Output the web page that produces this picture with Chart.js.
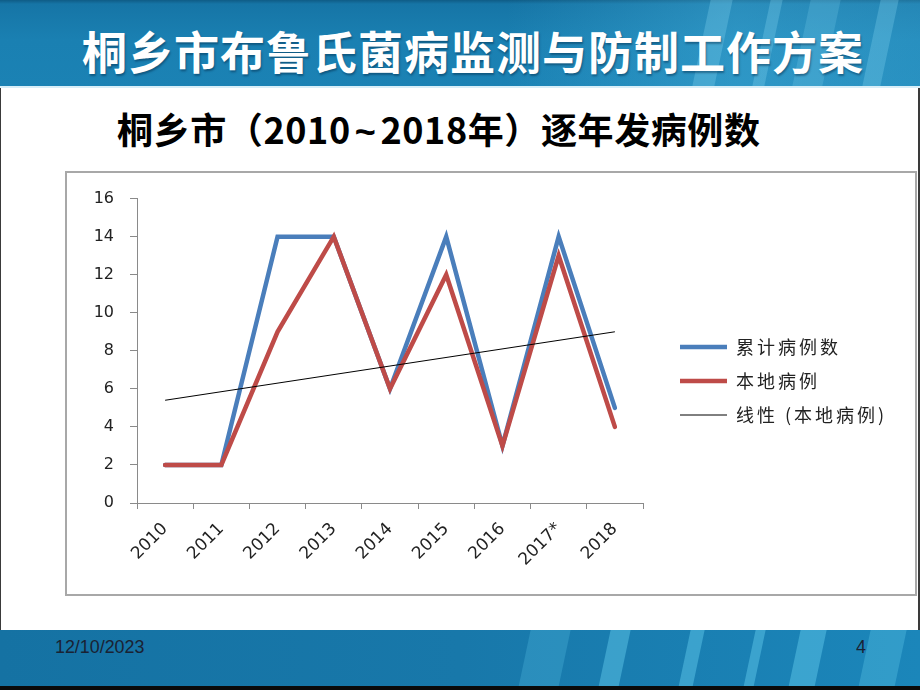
<!DOCTYPE html>
<html>
<head>
<meta charset="utf-8">
<script src="https://cdn.jsdelivr.net/npm/chart.js@4.4.1/dist/chart.umd.min.js"></script>
<style>
  html, body { margin:0; padding:0; }
  body { width:920px; height:690px; position:relative; overflow:hidden; background:#fff; font-family:"Noto Sans CJK SC", "Noto Sans", sans-serif; }
  #header { position:absolute; left:0; top:0; width:920px; height:88px; overflow:hidden;
    background:linear-gradient(to bottom, #0f5c86 0px, #1675a6 4px, #1a80b2 40px, #1b82b4 88px); }
  #header .glow { position:absolute; left:0; top:0; width:920px; height:88px;
    background:linear-gradient(to right, rgba(255,255,255,0) 0%, rgba(255,255,255,0) 55%, rgba(90,200,240,0.30) 80%, rgba(90,200,240,0.22) 100%); }
  .stripe { position:absolute; top:-10px; height:120px; background:rgba(140,220,245,0.28); transform:skewX(-12deg); }
  #header .hline { position:absolute; left:0; bottom:0; width:920px; height:2px; background:#d8eef8; }
  #title { position:absolute; left:82px; top:28px; font-size:45px; line-height:45px; font-weight:700; color:#fff; letter-spacing:1px; white-space:nowrap;
    text-shadow:1px 2px 2px rgba(0,40,70,0.45); }
  #subtitle { position:absolute; left:117px; top:110px; font-size:36px; line-height:36px; font-weight:700; color:#000; white-space:nowrap; letter-spacing:0.6px; }
  #subtitle .tl { font-family:"Liberation Sans", Arial, sans-serif; font-weight:700; padding:0 4px; }
  #box { position:absolute; left:65px; top:171px; width:848px; height:421px; border:2px solid #a8a8a8; background:#fff; }
  #box canvas { position:absolute; left:0; top:0; }
  #footer { position:absolute; left:0; top:630px; width:920px; height:56px; overflow:hidden;
    background:linear-gradient(to right, #1572a3 0%, #1878aa 50%, #1b86ba 100%); }
  #footer .stripe { background:rgba(110,215,245,0.4); }
  #bottombar { position:absolute; left:0; top:686px; width:920px; height:4px; background:#0a0a0a; }
  #date { position:absolute; left:55px; top:636px; font-family:"Liberation Sans",Arial,sans-serif; font-size:19px; color:#1a2233; transform:scaleX(0.94); transform-origin:left top; }
  #page { position:absolute; left:856px; top:636px; font-family:"Liberation Sans",Arial,sans-serif; font-size:19px; color:#1a2233; transform:scaleX(0.94); transform-origin:left top; }
  #edgeL { position:absolute; left:0; top:88px; width:1px; height:542px; background:#3a3a3a; }
  #edgeR { position:absolute; left:918px; top:88px; width:2px; height:560px; background:#3a3a3a; }
</style>
</head>
<body>
<div id="header">
  <div class="glow"></div>
  <div class="stripe" style="left:700px;width:22px;"></div>
  <div class="stripe" style="left:760px;width:12px;"></div>
  <div class="stripe" style="left:800px;width:30px;background:rgba(140,220,245,0.2)"></div>
  <div class="stripe" style="left:870px;width:18px;"></div>
  <div class="hline"></div>
</div>
<div id="title">桐乡市布鲁氏菌病监测与防制工作方案</div>
<div id="subtitle">桐乡市（2010<span class="tl">~</span>2018年）逐年发病例数</div>
<div id="edgeL"></div>
<div id="edgeR"></div>
<div id="box"><canvas id="c" width="848" height="421" style="width:848px;height:421px;"></canvas></div>
<div id="footer">
  <div class="stripe" style="left:520px;width:40px;background:rgba(110,215,245,0.22)"></div>
  <div class="stripe" style="left:600px;width:20px;"></div>
  <div class="stripe" style="left:680px;width:14px;"></div>
  <div class="stripe" style="left:745px;width:10px;"></div>
  <div class="stripe" style="left:790px;width:26px;"></div>
  <div class="stripe" style="left:860px;width:36px;background:rgba(110,215,245,0.28)"></div>
</div>
<div id="bottombar"></div>
<div id="date">12/10/2023</div>
<div id="page">4</div>
<script>
// ---- data ----
const years = ["2010", "2011", "2012", "2013", "2014", "2015", "2016", "2017*", "2018"];
const cumulativeCases = [2, 2, 14, 14, 6, 14, 3, 14, 5];
const localCases = [2, 2, 9, 14, 6, 12, 3, 13, 4];
// linear trend of local cases, read at its two ends (2010 and 2018)
const trendLocal = [5.4, null, null, null, null, null, null, null, 9.0];
const seriesNames = ["累计病例数", "本地病例", "线性 (本地病例)"];
const yTicks = [0, 2, 4, 6, 8, 10, 12, 14, 16];

// ---- layout helpers for legend ----
const LEGEND_WIDTH = 272;
const LEGEND_LEFT = 597;
const LEGEND_TOP = 149;
const LegendEl = Chart.Legend && Chart.Legend._element;
if (LegendEl) {
  const origFit = LegendEl.prototype.fit;
  LegendEl.prototype.fit = function () {
    origFit.call(this);
    if (!this.isHorizontal()) { this.width = LEGEND_WIDTH; }
  };
  const origDraw = LegendEl.prototype.draw;
  LegendEl.prototype.draw = function () {
    const ctx = this.ctx;
    const prev = ctx.letterSpacing;
    try { ctx.letterSpacing = '3px'; } catch (e) {}
    origDraw.call(this);
    try { ctx.letterSpacing = prev || '0px'; } catch (e) {}
  };
}
const legendPlacer = {
  id: 'legendPlacer',
  afterLayout(chart) {
    const l = chart.legend;
    if (!l) return;
    const w = l.width, h = l.height;
    l.left = LEGEND_LEFT; l.right = LEGEND_LEFT + w;
    l.top = LEGEND_TOP; l.bottom = LEGEND_TOP + h;
  }
};

const axisGrey = '#8a8a8a';
new Chart(document.getElementById('c'), {
  type: 'line',
  data: {
    labels: years,
    datasets: [
      { label: seriesNames[0], data: cumulativeCases, borderColor: '#4a7ebb', backgroundColor: '#4a7ebb',
        borderWidth: 4.5, pointRadius: 0, tension: 0, order: 3, borderCapStyle: 'round' },
      { label: seriesNames[1], data: localCases, borderColor: '#be4b48', backgroundColor: '#be4b48',
        borderWidth: 4.5, pointRadius: 0, tension: 0, order: 2, borderCapStyle: 'round' },
      { label: seriesNames[2], data: trendLocal, borderColor: '#000000', backgroundColor: '#000000',
        borderWidth: 1, pointRadius: 0, tension: 0, order: 1, spanGaps: true }
    ]
  },
  options: {
    responsive: false,
    animation: false,
    events: [],
    layout: { padding: { top: 20, right: 0, bottom: 0, left: 0 } },
    plugins: {
      title: { display: false },
      tooltip: { enabled: false },
      legend: {
        display: true, position: 'right', align: 'start',
        labels: {
          usePointStyle: true, pointStyle: 'line', pointStyleWidth: 47,
          padding: 16, color: '#222',
          sort: (a, b) => a.datasetIndex - b.datasetIndex,
          font: { family: '"Noto Sans CJK SC", sans-serif', size: 18 }
        }
      }
    },
    scales: {
      x: {
        type: 'category', offset: true,
        grid: { display: true, drawOnChartArea: false, drawTicks: true, tickLength: 6, offset: true, color: axisGrey },
        border: { display: true, color: axisGrey, width: 1 },
        ticks: { color: '#222', minRotation: 45, maxRotation: 45, padding: 10, autoSkip: false,
          font: { family: '"DejaVu Sans", sans-serif', size: 17 } },
        afterFit(scale) { scale.height = 91; }
      },
      y: {
        min: 0, max: 16,
        afterBuildTicks(scale) { scale.ticks = yTicks.map(v => ({ value: v })); },
        grid: { display: true, drawOnChartArea: false, drawTicks: true, tickLength: 7, color: axisGrey },
        border: { display: true, color: axisGrey, width: 1 },
        ticks: { color: '#222', padding: 16, font: { family: '"DejaVu Sans", sans-serif', size: 16 } },
        afterFit(scale) { scale.width = 70; }
      }
    }
  },
  plugins: [legendPlacer]
});
</script>
</body>
</html>
